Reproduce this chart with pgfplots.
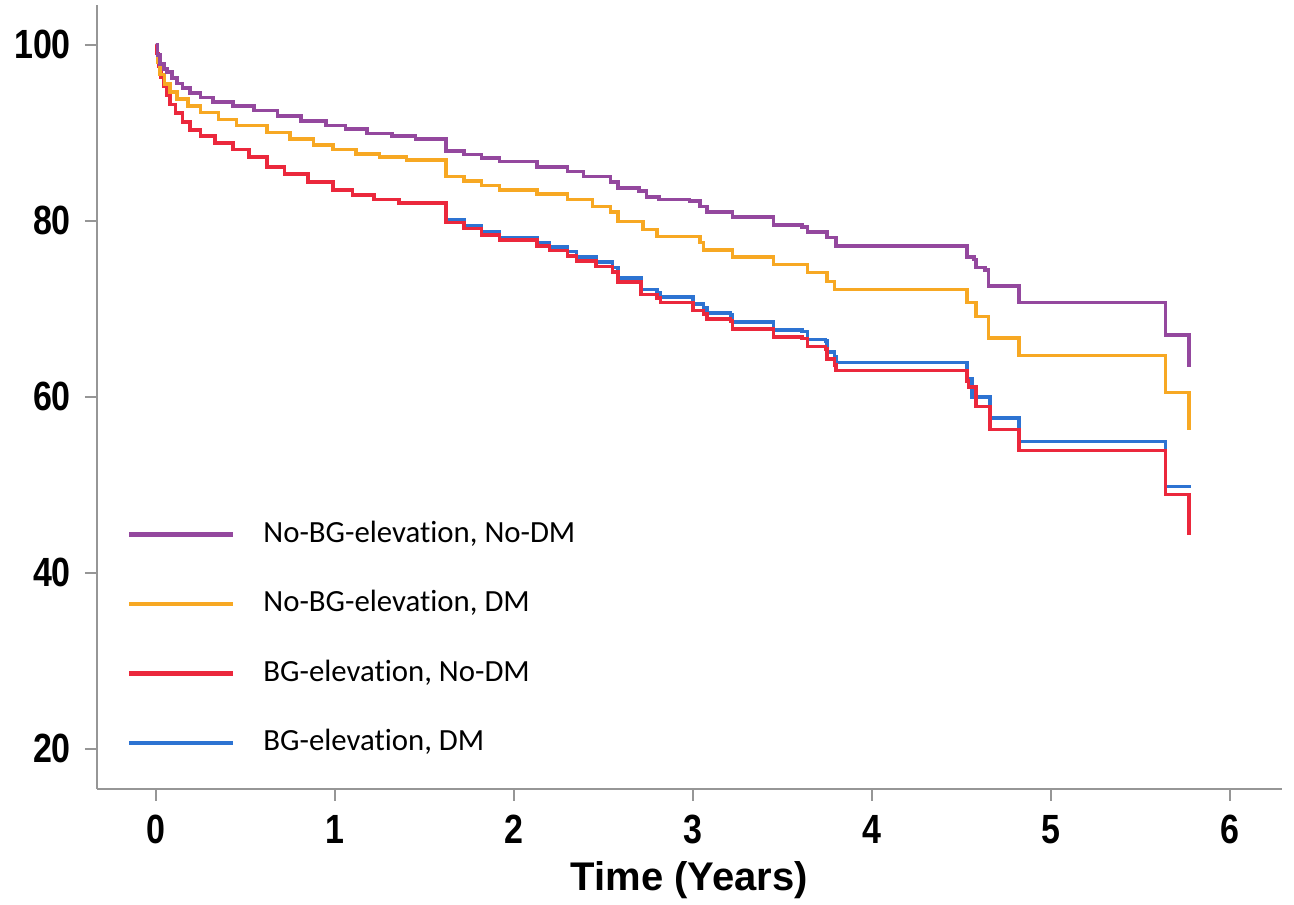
\documentclass[border=0pt]{standalone}
\usepackage{fontspec}
\setmainfont{Liberation Sans}
\newfontfamily\legfont[Ligatures=NoCommon]{Carlito}
\usepackage{pgfplots}
\pgfplotsset{compat=1.18}

\definecolor{kmpurple}{RGB}{148,72,158}
\definecolor{kmorange}{RGB}{247,168,35}
\definecolor{kmred}{RGB}{235,40,60}
\definecolor{kmblue}{RGB}{45,115,210}
\definecolor{axgray}{RGB}{150,150,150}

\begin{document}
\begin{tikzpicture}
  \begin{axis}[
      at={(0pt,0pt)}, anchor=south west,
      scale only axis,
      width=296.25pt, height=196pt,
      xmin=-0.328, xmax=6.29,
      ymin=15.45, ymax=104.5,
      axis x line=bottom, axis y line=left,
      axis line style={axgray, line width=0.6pt, -},
      tick style={axgray, line width=0.5pt},
      tick align=outside,
      major tick length=3pt,
      xtick={0,1,2,3,4,5,6},
      ytick={20,40,60,80,100},
      xticklabel={\scalebox{1}[1.2]{\pgfmathprintnumber{\tick}}},
      yticklabel={\scalebox{1}[1.2]{\pgfmathprintnumber{\tick}}},
      ticklabel style={font=\bfseries\fontsize{8.5}{10}\selectfont},
      /pgf/number format/assume math mode=true,
      xlabel={Time (Years)},
      xlabel style={font=\bfseries\fontsize{10}{12}\selectfont, yshift=2.5pt},
      legend style={at={(axis cs:-0.165,46.9)}, anchor=north west,
        draw=none, fill=none, font=\legfont\fontsize{7.7}{9}\selectfont,
        row sep=6.5pt, column sep=5pt, inner sep=0pt},
      legend cell align=left,
      legend image code/.code={\draw[line width=1.1pt] (0pt,0pt) -- (26pt,0pt);},
      reverse legend,
      every axis plot/.append style={const plot mark left, line width=0.9pt, mark=none},
    ]
    % BG-elevation, DM
    \addplot[kmblue] coordinates {
      (0,100) (0.007,99.0) (0.015,97.5) (0.03,96.3) (0.045,95.3) (0.06,94.3)
      (0.08,93.2) (0.11,92.2) (0.15,91.2) (0.19,90.3) (0.25,89.6) (0.33,88.8)
      (0.43,88.1) (0.52,87.2) (0.62,86.1) (0.72,85.3) (0.85,84.4) (0.99,83.5)
      (1.10,82.9) (1.22,82.4) (1.36,82.0) (1.62,80.1) (1.72,79.4) (1.82,78.7)
      (1.92,78.1) (2.13,77.5) (2.20,77.0) (2.30,76.5) (2.35,75.9) (2.46,75.3)
      (2.55,74.7) (2.58,73.5) (2.71,72.2) (2.80,71.8) (2.82,71.3) (3.00,70.5)
      (3.06,70.1) (3.08,69.5) (3.21,69.3) (3.22,68.5) (3.45,67.6) (3.61,67.4)
      (3.64,66.5) (3.74,66.3) (3.75,65.1) (3.79,64.5) (3.80,63.9) (4.53,62.0)
      (4.56,60.0) (4.66,57.6) (4.82,54.9) (5.64,49.8) (5.77,49.6)
    };
    \addlegendentry{BG-elevation, DM}
    % BG-elevation, No-DM
    \addplot[kmred] coordinates {
      (0,100) (0.007,99.0) (0.015,97.5) (0.03,96.3) (0.045,95.3) (0.06,94.3)
      (0.08,93.2) (0.11,92.2) (0.15,91.2) (0.19,90.3) (0.25,89.6) (0.33,88.8)
      (0.43,88.1) (0.52,87.2) (0.62,86.1) (0.72,85.3) (0.85,84.4) (0.99,83.5)
      (1.10,82.9) (1.22,82.4) (1.36,82.0) (1.62,79.8) (1.72,79.1) (1.82,78.4)
      (1.92,77.8) (2.13,77.1) (2.20,76.6) (2.30,76.0) (2.35,75.4) (2.46,74.8)
      (2.55,74.2) (2.58,73.0) (2.71,71.6) (2.80,71.2) (2.82,70.7) (3.00,69.8)
      (3.06,69.4) (3.08,68.8) (3.21,68.6) (3.22,67.7) (3.45,66.8) (3.61,66.6)
      (3.64,65.7) (3.74,65.4) (3.75,64.3) (3.79,63.6) (3.80,63.0) (4.53,61.8)
      (4.54,61.1) (4.58,58.9) (4.66,56.3) (4.82,53.9) (5.64,48.9) (5.77,44.3)
    };
    \addlegendentry{BG-elevation, No-DM}
    % No-BG-elevation, DM
    \addplot[kmorange] coordinates {
      (0,100) (0.01,98.0) (0.024,96.6) (0.05,95.5) (0.08,94.6) (0.12,93.8)
      (0.18,93.0) (0.25,92.3) (0.35,91.5) (0.45,90.8) (0.62,90.0) (0.75,89.3)
      (0.88,88.6) (0.99,88.1) (1.12,87.6) (1.25,87.2) (1.40,86.9) (1.62,85.0)
      (1.72,84.5) (1.82,84.0) (1.92,83.5) (2.13,83.0) (2.30,82.4) (2.44,81.6)
      (2.54,81.0) (2.58,79.9) (2.72,79.0) (2.80,78.2) (3.04,77.5) (3.06,76.7)
      (3.22,75.9) (3.45,75.0) (3.64,74.1) (3.75,73.1) (3.79,72.2) (4.53,70.7)
      (4.58,69.1) (4.65,66.7) (4.82,64.7) (5.64,60.5) (5.77,56.2)
    };
    \addlegendentry{No-BG-elevation, DM}
    % No-BG-elevation, No-DM
    \addplot[kmpurple] coordinates {
      (0,100) (0.01,98.8) (0.025,97.8) (0.045,97.2) (0.063,96.9) (0.09,96.2)
      (0.12,95.6) (0.15,95.1) (0.19,94.5) (0.25,94.0) (0.32,93.5) (0.43,93.0)
      (0.55,92.5) (0.68,91.9) (0.81,91.3) (0.95,90.8) (1.06,90.4) (1.18,89.9)
      (1.32,89.6) (1.45,89.3) (1.62,87.9) (1.72,87.5) (1.82,87.1) (1.92,86.7)
      (2.13,86.1) (2.30,85.6) (2.39,85.0) (2.54,84.4) (2.58,83.7) (2.70,83.4)
      (2.74,82.7) (2.81,82.4) (2.98,82.2) (3.04,81.6) (3.08,81.0) (3.22,80.4)
      (3.45,79.5) (3.61,79.3) (3.64,78.7) (3.75,78.1) (3.80,77.1) (4.53,75.9)
      (4.57,75.6) (4.58,74.7) (4.63,74.4) (4.65,72.6) (4.82,70.7) (5.64,67.0)
      (5.77,63.4)
    };
    \addlegendentry{No-BG-elevation, No-DM}
  \end{axis}
  \pgfresetboundingbox
  \path[use as bounding box] (-24.25pt,-29pt) rectangle (299.25pt,197.25pt);
\end{tikzpicture}
\end{document}
